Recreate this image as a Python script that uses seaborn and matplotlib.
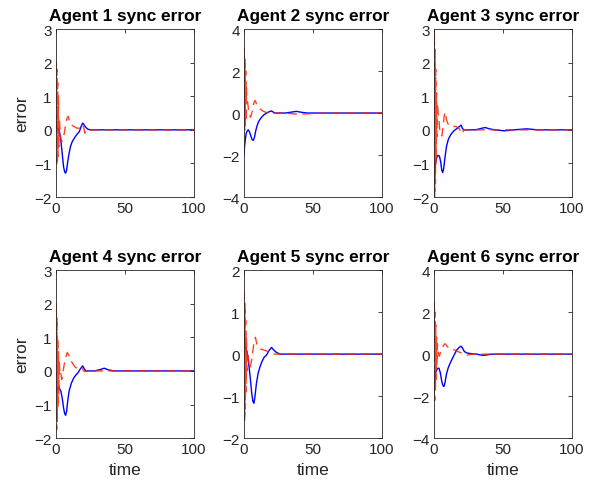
import numpy as np
import pandas as pd
import matplotlib
matplotlib.use('Agg')
import matplotlib.pyplot as plt
import seaborn as sns

# Valores (t, error) para cada agente
t_blue_1 = [0, 0.3, 0.6, 1.5, 2.5, 3.5, 4.5, 5.5, 6.3, 7, 7.7, 8.5, 9.5, 10.5, 11.5, 12.5, 14, 15.5, 17, 18.2, 19.3, 20.3, 21.5, 23, 25, 100]
e_blue_1 = [0.5, 0.2, 0.05, 0.03, -0.05, -0.3, -0.7, -1.1, -1.25, -1.29, -1.2, -0.95, -0.7, -0.5, -0.38, -0.3, -0.2, -0.12, -0.05, 0.1, 0.2, 0.15, 0.08, 0.02, 0.0, 0.0]
t_red_1 = [0, 0.25, 0.5, 0.75, 1.0, 1.25, 1.5, 1.8, 2.1, 2.5, 3, 3.5, 4, 5, 6, 7, 8, 8.9, 9.8, 11, 13, 15, 17, 18.5, 19.5, 20.5, 21, 22, 100]
e_red_1 = [0, 2.0, -1.1, 1.8, -1.0, 1.4, -0.8, 1.0, -0.5, 0.3, 0.0, -0.25, -0.37, -0.3, -0.1, 0.15, 0.35, 0.4, 0.25, 0.15, 0.1, 0.05, 0.05, 0.12, 0.15, 0.0, -0.1, 0.0, 0.0]

t_blue_2 = [0, 0.4, 0.8, 1.5, 2.3, 3.1, 4, 5, 6, 6.8, 7.6, 8.5, 9.5, 10.5, 11.6, 13, 14.5, 16.5, 18.5, 20, 21, 22.5, 30, 34, 38, 42, 46, 100]
e_blue_2 = [-2.0, -1.6, -1.35, -1.0, -0.85, -0.8, -0.9, -1.1, -1.28, -1.3, -1.15, -0.85, -0.6, -0.42, -0.3, -0.18, -0.08, 0.0, 0.07, 0.1, 0.05, 0.0, 0.0, 0.04, 0.08, 0.03, 0.0, 0.0]
t_red_2 = [0, 0.25, 0.5, 0.75, 1.0, 1.25, 1.5, 1.8, 2.1, 2.5, 3.2, 4, 4.8, 6, 7, 8, 9, 10, 11.6, 13.5, 16, 20, 25, 32, 38, 45, 52, 60, 100]
e_red_2 = [0, 3.1, -0.8, 2.6, -0.6, 2.0, -0.4, 1.2, 0.67, 0.6, 0.2, -0.1, -0.2, 0.1, 0.45, 0.6, 0.45, 0.33, 0.2, 0.1, 0.03, 0.0, 0.0, -0.02, -0.05, -0.04, -0.02, 0.0, 0.0]

t_blue_3 = [0, 0.3, 0.7, 1.2, 2, 3, 3.9, 4.8, 5.6, 6.3, 7, 8, 9, 10.4, 12, 13.5, 15.2, 17, 18.5, 19.6, 20.5, 21.5, 30, 34, 37, 40, 44, 51, 58, 67, 75, 100]
e_blue_3 = [-2.0, -1.6, -1.15, -0.95, -0.82, -0.76, -0.78, -0.95, -1.2, -1.27, -1.15, -0.8, -0.5, -0.28, -0.15, -0.07, 0.0, 0.05, 0.1, 0.14, 0.05, 0.0, 0.0, 0.04, 0.07, 0.03, 0.0, -0.03, 0.0, 0.03, 0.0, 0.0]
t_red_3 = [0, 0.25, 0.5, 0.75, 1.0, 1.25, 1.5, 1.8, 2.1, 2.4, 3, 3.5, 4, 4.8, 5.7, 6.8, 7.5, 8.2, 9, 10.4, 12, 14, 16, 18, 19.5, 20.3, 21.5, 100]
e_red_3 = [0, 2.9, -2.0, 2.4, -1.6, 1.8, -1.0, 1.1, -0.2, 0.8, 0.5, 0.35, 0.05, -0.15, -0.18, 0.2, 0.45, 0.53, 0.3, 0.15, 0.1, 0.1, 0.1, 0.05, -0.05, -0.12, 0.0, 0.0]

t_blue_4 = [0, 0.7, 1.5, 2.5, 3.5, 4.5, 5.5, 6.3, 7, 7.7, 8.5, 9.5, 11.2, 13, 14.5, 16, 17.5, 19.3, 20.3, 21.5, 28, 32, 35, 38, 42, 100]
e_blue_4 = [-0.66, -0.55, -0.5, -0.52, -0.6, -0.8, -1.1, -1.27, -1.32, -1.2, -0.9, -0.6, -0.36, -0.2, -0.12, -0.05, 0.05, 0.15, 0.08, 0.0, 0.0, 0.04, 0.08, 0.03, 0.0, 0.0]
t_red_4 = [0, 0.25, 0.5, 0.75, 1.0, 1.25, 1.5, 1.8, 2.1, 2.4, 2.8, 3.2, 3.6, 4.2, 5, 6, 7, 8.2, 9.5, 11.2, 13.7, 16, 18, 19, 20, 21, 23, 100]
e_red_4 = [0, 2.0, -1.75, 1.6, -1.5, 1.0, -1.1, 0.6, -0.7, 0.3, 0.0, 0.05, -0.1, -0.25, -0.05, 0.2, 0.4, 0.55, 0.45, 0.28, 0.12, 0.06, 0.06, 0.1, 0.0, -0.02, 0.0, 0.0]

t_blue_5 = [0, 0.4, 0.8, 1.5, 2.5, 3.5, 4.5, 5.5, 6.4, 7.2, 8, 9, 10.3, 11.6, 13, 14.5, 16.4, 18, 20, 21.5, 23.5, 26, 100]
e_blue_5 = [0.56, 0.3, 0.17, 0.12, 0.0, -0.25, -0.55, -0.9, -1.12, -1.17, -1.0, -0.7, -0.45, -0.3, -0.18, -0.08, -0.02, 0.08, 0.16, 0.1, 0.04, 0.0, 0.0]
t_red_5 = [0, 0.25, 0.5, 0.75, 1.0, 1.25, 1.5, 1.8, 2.1, 2.4, 2.8, 3.4, 4.3, 5.5, 6.5, 7.5, 8.3, 9.2, 10.5, 12, 14, 16, 18.5, 21, 100]
e_red_5 = [0, 1.45, -1.6, 1.2, -1.3, 0.8, -0.9, 0.4, -0.4, 0.1, 0.05, -0.2, -0.34, -0.15, 0.1, 0.32, 0.4, 0.25, 0.15, 0.12, 0.1, 0.08, 0.04, 0.0, 0.0]

t_blue_6 = [0, 0.3, 0.8, 1.6, 2.6, 3.6, 4.6, 5.6, 6.5, 7.2, 8, 9, 10.3, 11.6, 13, 14.5, 16.4, 18, 19.5, 20.5, 22, 24, 27, 31, 33.5, 36, 39, 42, 100]
e_blue_6 = [-1.9, -1.4, -1.0, -0.8, -0.68, -0.67, -0.9, -1.3, -1.5, -1.54, -1.35, -0.95, -0.65, -0.44, -0.25, -0.05, 0.19, 0.3, 0.38, 0.3, 0.12, 0.05, 0.02, 0.0, -0.04, -0.06, -0.03, 0.0, 0.0]
t_red_6 = [0, 0.25, 0.5, 0.75, 1.0, 1.25, 1.5, 1.8, 2.1, 2.4, 2.8, 3.3, 3.8, 4.5, 5.5, 6.8, 8, 9.2, 10.5, 11.6, 13.5, 15, 16.5, 18, 20, 22, 24, 26, 28, 100]
e_red_6 = [0, 2.5, -2.2, 2.0, -1.8, 1.4, -1.2, 0.8, -0.5, 0.5, 0.35, 0.0, -0.1, 0.05, 0.2, 0.4, 0.5, 0.4, 0.3, 0.27, 0.22, 0.2, 0.15, 0.1, 0.05, 0.0, -0.05, -0.02, 0.0, 0.0]

series = [
    (t_blue_1, e_blue_1, t_red_1, e_red_1),
    (t_blue_2, e_blue_2, t_red_2, e_red_2),
    (t_blue_3, e_blue_3, t_red_3, e_red_3),
    (t_blue_4, e_blue_4, t_red_4, e_red_4),
    (t_blue_5, e_blue_5, t_red_5, e_red_5),
    (t_blue_6, e_blue_6, t_red_6, e_red_6),
]
ylims = [(-2, 3), (-4, 4), (-2, 3), (-2, 3), (-2, 2), (-4, 4)]
yticks = [[-2, -1, 0, 1, 2, 3], [-4, -2, 0, 2, 4], [-2, -1, 0, 1, 2, 3],
          [-2, -1, 0, 1, 2, 3], [-2, -1, 0, 1, 2], [-4, -2, 0, 2, 4]]
titles = ['Agent %d sync error' % (i + 1) for i in range(6)]

sns.set_style('white')
plt.rcParams['font.family'] = ['Liberation Sans', 'DejaVu Sans']

fig = plt.figure(figsize=(5.98, 4.89), dpi=100)
lefts = [0.0936, 0.408, 0.7258]
bottoms = [0.595, 0.102]
w, h = 0.2308, 0.3436

for i, (tb, eb, tr, er) in enumerate(series):
    row, col = divmod(i, 3)
    ax = fig.add_axes([lefts[col], bottoms[row], w, h])
    sns.lineplot(x=tb, y=eb, ax=ax, color='#0000ff', linewidth=1.0)
    sns.lineplot(x=tr, y=er, ax=ax, color='#ff2200', linewidth=1.0, alpha=0.85,
                 linestyle=(0, (6.5, 4)))
    ax.set_xlim(0, 100)
    ax.set_ylim(*ylims[i])
    ax.set_xticks([0, 50, 100])
    ax.set_yticks(yticks[i])
    ax.tick_params(direction='in', top=True, right=True, length=3, width=0.6,
                   labelsize=11, colors='#262626', pad=3)
    for s in ax.spines.values():
        s.set_color('#262626')
        s.set_linewidth(0.6)
    ax.set_title(titles[i], fontsize=12.4, fontweight='bold', pad=6.5, color='black')
    if col == 0:
        ax.set_ylabel('error', fontsize=12.5, color='#262626')
    if row == 1:
        ax.set_xlabel('time', fontsize=12.5, color='#262626')

fig.savefig('out.png', dpi=100)
